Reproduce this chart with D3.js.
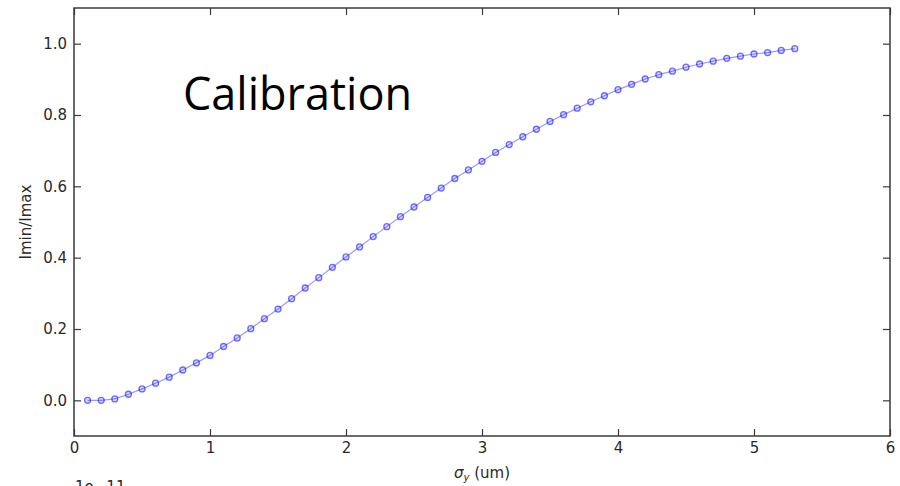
<!DOCTYPE html>
<html>
<head>
<meta charset="utf-8">
<script src="https://cdn.jsdelivr.net/npm/d3@7"></script>
<style>
  html, body { margin: 0; padding: 0; background: #fff; }
  svg { display: block; }
</style>
</head>
<body>
<svg id="chart" width="900" height="486"></svg>
<script>
// Beam size sigma_y (um) and the measured Imin/Imax ratio
const sigmaY = [0.1,0.2,0.3,0.4,0.5,0.6,0.7,0.8,0.9,1.0,
  1.1,1.2,1.3,1.4,1.5,1.6,1.7,1.8,1.9,2.0,
  2.1,2.2,2.3,2.4,2.5,2.6,2.7,2.8,2.9,3.0,
  3.1,3.2,3.3,3.4,3.5,3.6,3.7,3.8,3.9,4.0,
  4.1,4.2,4.3,4.4,4.5,4.6,4.7,4.8,4.9,5.0,
  5.1,5.2,5.3];
const ratio = [0.000,0.000,0.004,0.017,0.032,0.048,0.065,0.085,0.105,0.126,
  0.151,0.175,0.201,0.229,0.256,0.285,0.315,0.344,0.373,0.402,
  0.430,0.459,0.487,0.515,0.542,0.569,0.595,0.622,0.646,0.670,
  0.695,0.717,0.739,0.760,0.782,0.801,0.819,0.837,0.854,0.871,
  0.886,0.901,0.913,0.923,0.934,0.943,0.951,0.959,0.965,0.971,
  0.975,0.981,0.986];
const xTicks = [0,1,2,3,4,5,6];
const yTicks = [0.0,0.2,0.4,0.6,0.8,1.0];

const svg = d3.select("#chart");
const plotL = 74, plotR = 890, plotT = 8, plotB = 436;

const x = d3.scaleLinear().domain([0, 6]).range([plotL, plotR]);
const y = d3.scaleLinear().domain([-0.1, 1.1]).range([plotB, plotT]);

const axisColor = "#3a3a3a";
const labelFont = "'DejaVu Sans', sans-serif";
const tickLen = 7;

// Data line and markers
const pts = sigmaY.map((s, i) => [s, ratio[i]]);
svg.append("path")
  .datum(pts)
  .attr("fill", "none")
  .attr("stroke", "rgba(0,0,255,0.4)")
  .attr("stroke-width", 1.2)
  .attr("d", d3.line().x(d => x(d[0])).y(d => y(d[1])));

svg.append("g").selectAll("circle")
  .data(pts)
  .join("circle")
  .attr("cx", d => x(d[0]))
  .attr("cy", d => y(d[1]))
  .attr("r", 3)
  .attr("fill", "rgba(0,0,255,0.15)")
  .attr("stroke", "rgba(0,0,255,0.55)")
  .attr("stroke-width", 1.3);

// Axes: inward ticks on all four sides
function styleAxis(g) {
  g.select(".domain").remove();
  g.selectAll(".tick line").attr("stroke", axisColor).attr("stroke-width", 1.2);
  g.selectAll(".tick text")
    .attr("fill", "#2a2a2a")
    .style("font-family", labelFont)
    .style("font-size", "15px");
}

svg.append("g")
  .attr("transform", `translate(0,${plotB})`)
  .call(d3.axisBottom(x).tickValues(xTicks).tickFormat(d3.format("d"))
    .tickSizeInner(-tickLen).tickSizeOuter(0).tickPadding(6))
  .call(styleAxis);

svg.append("g")
  .attr("transform", `translate(0,${plotT})`)
  .call(d3.axisTop(x).tickValues(xTicks).tickFormat("")
    .tickSizeInner(-tickLen).tickSizeOuter(0))
  .call(styleAxis);

svg.append("g")
  .attr("transform", `translate(${plotL},0)`)
  .call(d3.axisLeft(y).tickValues(yTicks).tickFormat(d3.format(".1f"))
    .tickSizeInner(-tickLen).tickSizeOuter(0).tickPadding(7))
  .call(styleAxis);

svg.append("g")
  .attr("transform", `translate(${plotR},0)`)
  .call(d3.axisRight(y).tickValues(yTicks).tickFormat("")
    .tickSizeInner(-tickLen).tickSizeOuter(0))
  .call(styleAxis);

// Frame
svg.append("rect")
  .attr("x", plotL).attr("y", plotT)
  .attr("width", plotR - plotL).attr("height", plotB - plotT)
  .attr("fill", "none")
  .attr("stroke", axisColor)
  .attr("stroke-width", 1.5);

// Axis titles
const xl = svg.append("text")
  .attr("x", x(3)).attr("y", 478)
  .attr("text-anchor", "middle")
  .attr("fill", "#2a2a2a")
  .style("font-family", labelFont)
  .style("font-size", "15px");
xl.append("tspan").text("σ").style("font-style", "italic");
xl.append("tspan").text("y").attr("dy", 3).style("font-size", "10px").style("font-style", "italic");
xl.append("tspan").text(" (um)").attr("dy", -3);

svg.append("text")
  .attr("transform", `translate(31,${(plotT + plotB) / 2}) rotate(-90)`)
  .attr("text-anchor", "middle")
  .attr("fill", "#2a2a2a")
  .style("font-family", labelFont)
  .style("font-size", "15px")
  .text("Imin/Imax");

// Offset label of the panel below, cut by the page edge
svg.append("text")
  .attr("x", 75).attr("y", 492)
  .attr("fill", "#2a2a2a")
  .style("font-family", labelFont)
  .style("font-size", "15px")
  .text("1e−11");

// Title inside the plot
svg.append("text")
  .attr("x", 183).attr("y", 110)
  .attr("fill", "#000")
  .style("font-family", "'Open Sans', sans-serif")
  .style("font-size", "45px")
  .text("Calibration");
</script>
</body>
</html>
